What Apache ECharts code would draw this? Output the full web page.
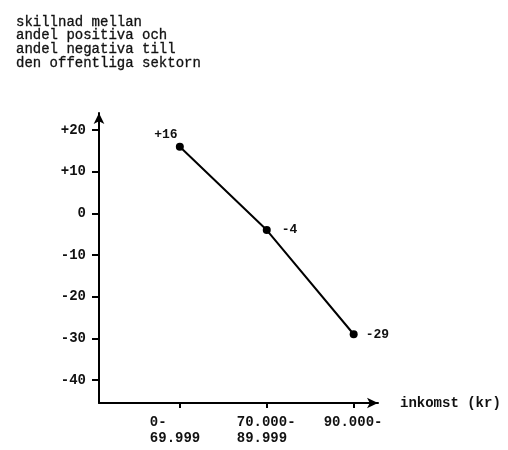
<!DOCTYPE html>
<html>
<head>
<meta charset="utf-8">
<script src="https://cdn.jsdelivr.net/npm/echarts@6/dist/echarts.min.js"></script>
<style>html,body{margin:0;padding:0;background:#fff}#c{width:508px;height:450px}</style>
</head>
<body>
<div id="c"></div>
<script>
var titleLines = ['skillnad mellan', 'andel positiva och', 'andel negativa till', 'den offentliga sektorn'];
var categories = [['0-', '69.999'], ['70.000-', '89.999'], ['90.000-', '']];
var values = [16, -4, -29];
var pointLabels = ['+16', '-4', '-29'];
var yTicks = [20, 10, 0, -10, -20, -30, -40];
var yTickLabels = ['+20', '+10', '0', '-10', '-20', '-30', '-40'];
var xAxisName = 'inkomst (kr)';

var FONT = '"Liberation Mono", "DejaVu Sans Mono", monospace';
var labelPos = ['top', 'right', 'right'];
var labelOffset = [[-14, 4], [5, 0], [2, 0]];

var chart = echarts.init(document.getElementById('c'));
chart.setOption({
  backgroundColor: '#fff',
  animation: false,
  title: {
    text: titleLines.join('\n'),
    left: 11, top: 10,
    textStyle: { fontFamily: FONT, fontSize: 14, lineHeight: 13.7, fontWeight: 'normal', color: '#111', textBorderColor: '#111', textBorderWidth: 0.3 }
  },
  grid: { left: 99, right: 130, top: 113, bottom: 47, containLabel: false },
  xAxis: {
    type: 'value', min: -0.93, max: 2.28,
    name: xAxisName, nameLocation: 'end', nameGap: 22,
    nameTextStyle: { fontFamily: FONT, fontSize: 14, fontWeight: 'bold', color: '#111', verticalAlign: 'middle' },
    splitLine: { show: false },
    axisLine: { onZero: false, lineStyle: { color: '#000', width: 2 }, symbol: ['none', 'arrow'], symbolSize: [8, 11] },
    axisTick: { customValues: [0, 1, 2], length: 5, lineStyle: { color: '#000', width: 2 } },
    axisLabel: {
      customValues: [0, 1, 2], margin: 11, color: '#111',
      fontFamily: FONT, fontSize: 14, fontWeight: 'bold', lineHeight: 16,
      formatter: function (v) {
        var c = categories[Math.round(v)];
        return '{a|' + c[0] + '}\n{a|' + c[1] + '}';
      },
      rich: { a: { width: 60, align: 'left', fontFamily: FONT, fontSize: 14, fontWeight: 'bold', lineHeight: 16, color: '#111' } }
    }
  },
  yAxis: {
    type: 'value', min: -45.5, max: 24.1,
    splitLine: { show: false },
    axisLine: { onZero: false, lineStyle: { color: '#000', width: 2 }, symbol: ['none', 'arrow'], symbolSize: [8, 11] },
    axisTick: { customValues: yTicks, length: 7, lineStyle: { color: '#000', width: 2 } },
    axisLabel: {
      customValues: yTicks, margin: 13, color: '#111',
      fontFamily: FONT, fontSize: 14, fontWeight: 'bold',
      formatter: function (v) { return yTickLabels[yTicks.indexOf(Math.round(v))]; }
    }
  },
  series: [{
    type: 'line',
    data: values.map(function (v, i) {
      return { value: [i, v], label: { position: labelPos[i], offset: labelOffset[i], distance: 6 } };
    }),
    symbol: 'circle', symbolSize: 8,
    lineStyle: { color: '#000', width: 2 },
    itemStyle: { color: '#000' },
    label: {
      show: true, color: '#111', fontFamily: FONT, fontSize: 13, fontWeight: 'bold',
      formatter: function (p) { return pointLabels[p.dataIndex]; }
    }
  }]
});
</script>
</body>
</html>
